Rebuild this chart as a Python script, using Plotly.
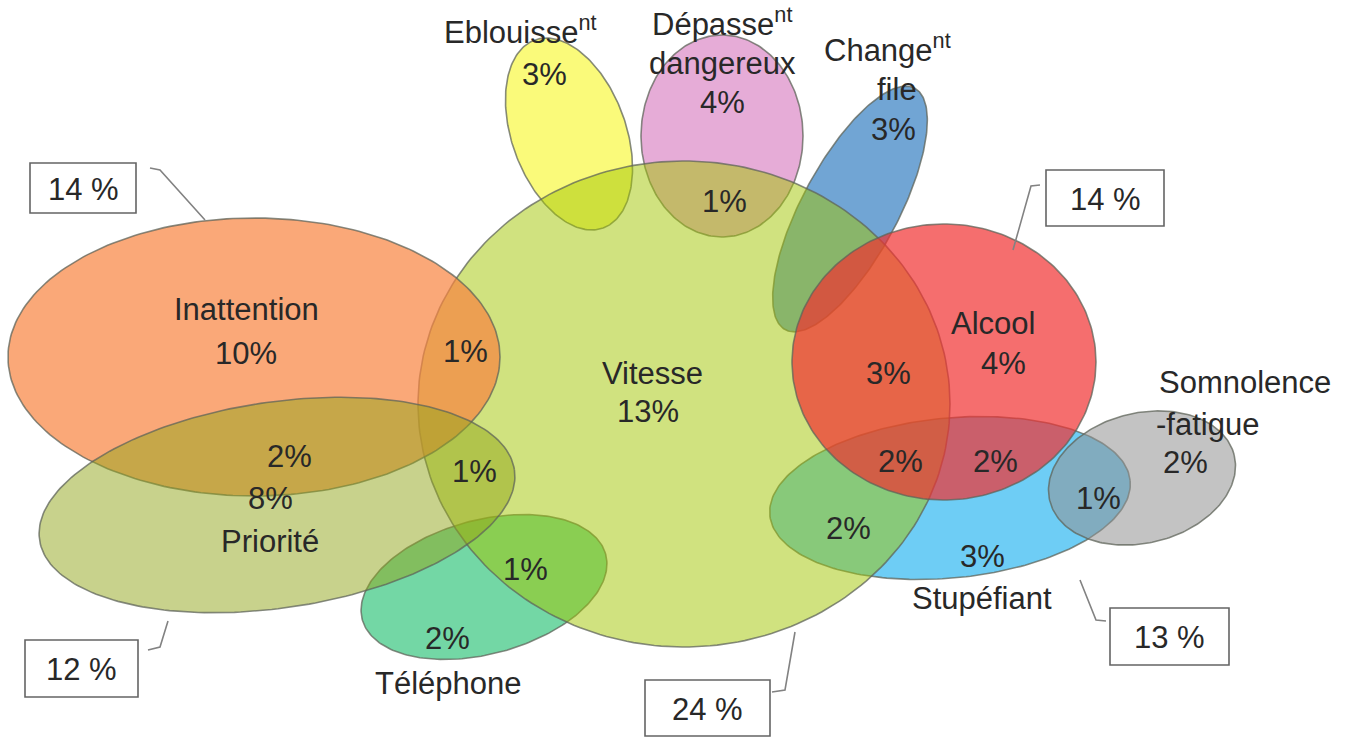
import numpy as np
import plotly.graph_objects as go

# data
categories = ["Téléphone", "Stupéfiant", "Changement file", "Dépassement dangereux",
              "Eblouissement", "Vitesse", "Inattention", "Priorité", "Alcool",
              "Somnolence-fatigue"]
own_pct = [2, 3, 3, 4, 3, 13, 10, 8, 4, 2]
# overlaps: Dépass/Vit, Inatt/Vit, Inatt/Prio, Prio/Vit, Tél/Vit, Vit/Alc, Vit/Alc/Stup, Alc/Stup, Vit/Stup, Stup/Somn
overlap_pct = [1, 1, 2, 1, 1, 3, 2, 2, 2, 1]
box_totals = [14, 14, 13, 12, 24]

# geometry (pixel space): cx, cy, rx, ry, angle, fill
ellipses = [
    (484, 587, 126, 67, -15, "rgb(115,215,165)"),
    (950, 498, 181, 80, -5.5, "rgb(110,205,245)"),
    (850, 209, 137, 48, -61.8, "rgb(113,165,212)"),
    (722, 136, 81, 101, 0, "rgb(230,172,215)"),
    (569, 134, 100, 57, 70, "rgb(250,250,122)"),
    (684, 404, 266, 243, 0, "rgba(161,197,0,0.5)"),
    (254, 357, 246, 139, 0, "rgba(248,131,62,0.7)"),
    (277, 505, 240, 103, -8.4, "rgba(145,165,25,0.5)"),
    (944, 362, 152, 138, 0, "rgba(241,48,48,0.7)"),
    (1142, 478, 95, 65, -14, "rgba(146,146,146,0.55)"),
]


def ellipse(cx, cy, rx, ry, ang, n=240):
    t = np.linspace(0, 2 * np.pi, n)
    a = np.radians(ang)
    x = cx + rx * np.cos(t) * np.cos(a) - ry * np.sin(t) * np.sin(a)
    y = cy + rx * np.cos(t) * np.sin(a) + ry * np.sin(t) * np.cos(a)
    return x, y


fig = go.Figure()
for name, (cx, cy, rx, ry, ang, col) in zip(categories, ellipses):
    x, y = ellipse(cx, cy, rx, ry, ang)
    fig.add_trace(go.Scatter(x=x, y=y, mode="lines", fill="toself", fillcolor=col,
                             line=dict(color="rgba(95,100,90,0.75)", width=1.6),
                             name=name, hoverinfo="skip", showlegend=False))

FONT = "Liberation Sans, Arial, sans-serif"
TXT = "rgb(40,40,40)"


def label(x, y, text, size=31):
    fig.add_annotation(x=x, y=y, text=text, showarrow=False, xanchor="center",
                       yanchor="middle", font=dict(family=FONT, size=size, color=TXT))


p = {c: v for c, v in zip(categories, own_pct)}
label(520, 30, "Eblouisse<sup>nt</sup>")
label(544, 74, f"{p['Eblouissement']}%")
label(722, 22, "Dépasse<sup>nt</sup>")
label(722, 63, "dangereux")
label(722, 102, f"{p['Dépassement dangereux']}%")
label(887, 48, "Change<sup>nt</sup>")
label(897, 89, "file")
label(893, 129, f"{p['Changement file']}%")
label(246, 309, "Inattention")
label(246, 353, f"{p['Inattention']}%")
label(652, 373, "Vitesse")
label(648, 411, f"{p['Vitesse']}%")
label(993, 323, "Alcool")
label(1003, 363, f"{p['Alcool']}%")
label(1245, 382, "Somnolence")
label(1207, 424, "-fatigue")
label(1185, 462, f"{p['Somnolence-fatigue']}%")
label(982, 556, f"{p['Stupéfiant']}%")
label(982, 598, "Stupéfiant")
label(270, 498, f"{p['Priorité']}%")
label(270, 541, "Priorité")
label(447, 638, f"{p['Téléphone']}%")
label(448, 683, "Téléphone")

overlap_pos = [(724, 201), (465, 351), (289, 456), (474, 471), (525, 569),
               (888, 373), (900, 461), (995, 461), (848, 528), (1098, 498)]
for (x, y), v in zip(overlap_pos, overlap_pct):
    label(x, y, f"{v}%")

boxes = [(30, 163, 136, 213), (1046, 170, 1164, 226), (1110, 608, 1229, 665),
         (25, 640, 138, 697), (645, 680, 770, 736)]
leaders = ["M150,168 L160,170 L205,220", "M1040,185 L1031,186 L1013,250",
           "M1106,621 L1096,620 L1080,580", "M148,650 L160,647 L168,621",
           "M772,692 L785,690 L795,632"]
for (x0, y0, x1, y1), v, path in zip(boxes, box_totals, leaders):
    fig.add_shape(type="rect", x0=x0, y0=y0, x1=x1, y1=y1,
                  line=dict(color="rgb(100,100,100)", width=1.6), fillcolor="white")
    fig.add_shape(type="path", path=path, line=dict(color="rgb(130,130,130)", width=1.6))
    label((x0 + x1) / 2, (y0 + y1) / 2 + 1, f"{v} %")

fig.update_xaxes(range=[0, 1345], visible=False, fixedrange=True)
fig.update_yaxes(range=[751, 0], visible=False, fixedrange=True)
fig.update_layout(width=1345, height=751, margin=dict(l=0, r=0, t=0, b=0),
                  paper_bgcolor="white", plot_bgcolor="white")

fig.write_html("out.html", config={"displayModeBar": False},
               post_script="document.body.style.margin='0';")
